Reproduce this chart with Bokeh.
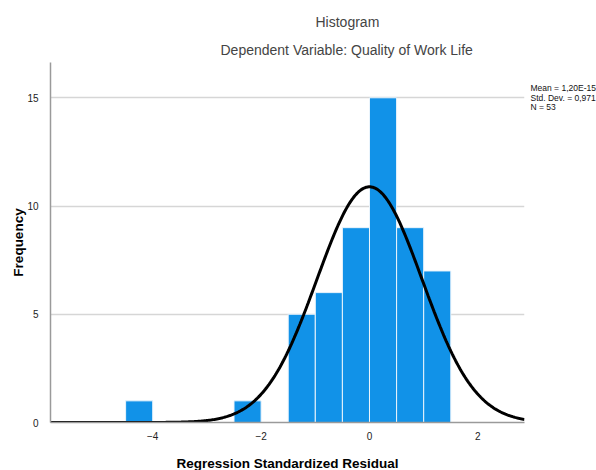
import math
import numpy as np
from bokeh.plotting import figure
from bokeh.models import Range1d, FixedTicker, Title, LinearAxis
from bokeh.embed import file_html
from bokeh.resources import INLINE

# ---- data ----
bin_lefts = [-4.5, -2.5, -1.5, -1.0, -0.5, 0.0, 0.5, 1.0]
bin_rights = [-4.0, -2.0, -1.0, -0.5, 0.0, 0.5, 1.0, 1.5]
counts = [1, 1, 5, 6, 9, 15, 9, 7]
mean_val = 1.20e-15
std_val = 0.971
n_val = 53
bin_width = 0.5
x_ticks = [-4, -2, 0, 2]
y_ticks = [0, 5, 10, 15]
stats_lines = ["Mean = 1,20E-15", "Std. Dev. = 0,971", "N = 53"]
stats_y = [15.44, 15.0, 14.56]   # vertical placement of the statistics box lines (y units)

FONT = "Liberation Sans"

p = figure(width=596, height=470, output_backend="svg", toolbar_location=None,
           x_range=Range1d(-5.886, 2.86), y_range=Range1d(0, 16.63),
           frame_width=474, frame_height=360,
           min_border_left=50, min_border_right=72, min_border_top=62, min_border_bottom=48)
p.outline_line_color = None
p.background_fill_color = "white"
p.border_fill_color = "white"

# bars
p.quad(left=bin_lefts, right=bin_rights, bottom=0, top=counts,
       fill_color="#1192e8", line_color="#eaf4fc", line_width=1)

# normal curve (from displayed mean / sd / N)
xs = np.linspace(-5.886, 2.86, 400)
ys = n_val * bin_width * np.exp(-0.5 * ((xs - mean_val) / std_val) ** 2) / (std_val * math.sqrt(2 * math.pi))
p.line(xs, ys, line_color="black", line_width=3)

# axes
for ax in (p.xaxis[0], p.yaxis[0]):
    ax.major_tick_line_color = None
    ax.minor_tick_line_color = None
    ax.axis_line_color = "#9a9a9a"
    ax.axis_line_width = 1.5
    ax.major_label_text_font = FONT
    ax.major_label_text_font_size = "10px"
    ax.major_label_text_color = "#222222"
    ax.axis_label_text_font = FONT
    ax.axis_label_text_font_size = "13.5px"
    ax.axis_label_text_font_style = "bold"
    ax.axis_label_text_color = "black"
p.xaxis.major_label_standoff = 3
p.yaxis.major_label_standoff = 6
p.xaxis.ticker = FixedTicker(ticks=x_ticks)
p.yaxis.ticker = FixedTicker(ticks=y_ticks)
p.xaxis.axis_label = "Regression Standardized Residual"
p.yaxis.axis_label = "Frequency"
p.xaxis.axis_label_standoff = 13
p.yaxis.axis_label_standoff = -2
p.xgrid.grid_line_color = None
p.ygrid.ticker = FixedTicker(ticks=y_ticks)
p.ygrid.grid_line_color = "#d6d6d6"
p.ygrid.grid_line_width = 1.5
p.ygrid.level = "underlay"

# statistics box text (placed as right-hand labels)
stats_axis = LinearAxis(ticker=FixedTicker(ticks=stats_y),
                        major_label_overrides={v: t for v, t in zip(stats_y, stats_lines)},
                        axis_line_color=None, major_tick_line_color=None,
                        minor_tick_line_color=None, major_label_standoff=0,
                        major_label_text_font=FONT, major_label_text_font_size="8.5px",
                        major_label_text_color="#111111")
p.add_layout(stats_axis, "right")

p.add_layout(Title(text="Dependent Variable: Quality of Work Life", align="left", offset=170,
                   text_font=FONT, text_font_size="14px", text_font_style="normal",
                   standoff=10), "above")
p.add_layout(Title(text="Histogram", align="left", offset=265,
                   text_font=FONT, text_font_size="14px", text_font_style="normal",
                   standoff=10), "above")

open("out.html", "w").write(file_html(p, INLINE))
